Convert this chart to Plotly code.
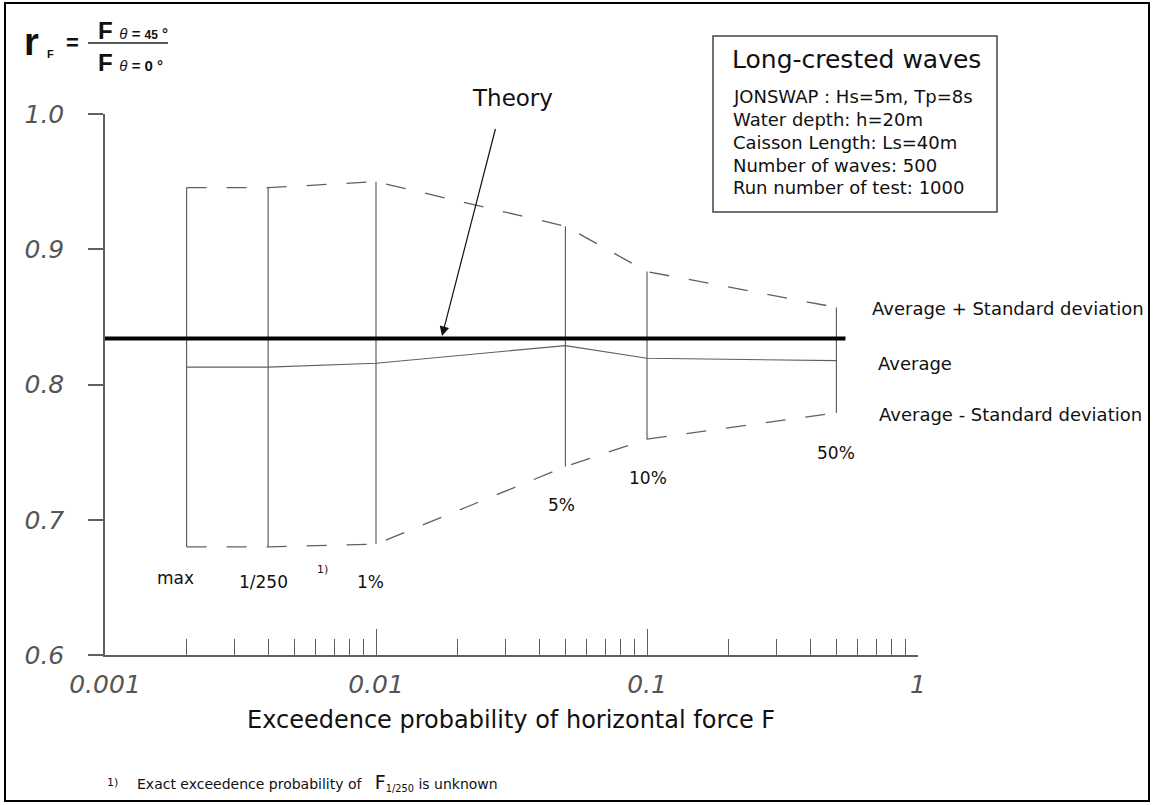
import plotly.graph_objects as go

# ---------------- data ----------------
categories = ["max", "1/250", "1%", "5%", "10%", "50%"]
exceed_prob = [0.002, 0.004, 0.01, 0.05, 0.1, 0.5]
avg_plus_sd = [0.9455, 0.9455, 0.950, 0.917, 0.8835, 0.857]
average = [0.8128, 0.8128, 0.8157, 0.8288, 0.8194, 0.8176]
avg_minus_sd = [0.680, 0.680, 0.682, 0.7393, 0.7596, 0.779]
theory_value = 0.834
theory_x = [0.001, 0.54]

x_tick_vals = [0.001, 0.01, 0.1, 1]
x_tick_text = ["0.001", "0.01", "0.1", "1"]
y_tick_vals = [0.6, 0.7, 0.8, 0.9, 1.0]
y_tick_text = ["0.6", "0.7", "0.8", "0.9", "1.0"]
minor_vals = [m * d for d in (0.001, 0.01, 0.1) for m in range(2, 10)]

# ---------------- layout geometry (pixels) ----------------
W_FIG, H_FIG = 1154, 805
L, R, T, B = 105, 918, 114, 655
PW, PH = R - L, B - T


def px(x):
    return (x - L) / PW


def py(y):
    return (B - y) / PH


FONT = "DejaVu Sans"
GRAY = "#555555"
LINE_GRAY = "#606060"

fig = go.Figure()

# vertical bars between lower and upper bounds
vx, vy = [], []
for xv, lo, hi in zip(exceed_prob, avg_minus_sd, avg_plus_sd):
    vx += [xv, xv, None]
    vy += [lo, hi, None]
fig.add_trace(go.Scatter(x=vx, y=vy, mode="lines",
                         line=dict(color=LINE_GRAY, width=1.2),
                         hoverinfo="skip", showlegend=False))

# upper / lower dashed envelopes
for series in (avg_plus_sd, avg_minus_sd):
    fig.add_trace(go.Scatter(x=exceed_prob, y=series, mode="lines",
                             line=dict(color=LINE_GRAY, width=1.3, dash="20px,20px"),
                             showlegend=False))

# average
fig.add_trace(go.Scatter(x=exceed_prob, y=average, mode="lines",
                         line=dict(color=LINE_GRAY, width=1.2),
                         showlegend=False))

# theory
fig.add_trace(go.Scatter(x=theory_x, y=[theory_value, theory_value], mode="lines",
                         line=dict(color="#000000", width=4),
                         showlegend=False))

annotations = []


def add_text(x, y, text, size=16, anchor="center", color="#111111", family=FONT, yanchor="middle"):
    annotations.append(dict(x=px(x), y=py(y), xref="paper", yref="paper", text=text,
                            showarrow=False, xanchor=anchor, yanchor=yanchor,
                            font=dict(family=family, size=size, color=color)))


# category labels
label_pos = {"max": (175, 578), "1/250": (263, 582), "1%": (370, 582),
             "5%": (561, 505), "10%": (648, 478), "50%": (836, 453)}
for c in categories:
    add_text(label_pos[c][0], label_pos[c][1], c, size=17)
add_text(322, 569, "1)", size=11)

# right side labels
add_text(870, 308, "Average + Standard deviation", size=18, anchor="left")
add_text(876, 363, "Average", size=18, anchor="left")
add_text(877, 415, "Average - Standard deviation", size=18, anchor="left")

# Theory label + arrow
add_text(512, 98, "Theory", size=23)
annotations.append(dict(x=px(442), y=py(336), xref="paper", yref="paper",
                        ax=498 - 442, ay=119 - 336, axref="pixel", ayref="pixel",
                        text=" ", showarrow=True, arrowhead=2, arrowsize=1.6,
                        arrowwidth=1.2, arrowcolor="#111111"))

# info box
add_text(856, 59, "Long-crested waves", size=25)
info_lines = ["JONSWAP : Hs=5m, Tp=8s", "Water depth: h=20m", "Caisson Length: Ls=40m",
              "Number of waves: 500", "Run number of test: 1000"]
for i, s in enumerate(info_lines):
    add_text(731, 96 + i * 23, s, size=18, anchor="left")

# x axis title
add_text(511, 720, "Exceedence probability of horizontal force F", size=24)

# formula  r_F = F(theta=45) / F(theta=0)
add_text(31, 42, "<b>r</b>", size=38, family="Liberation Sans")
add_text(50, 54, "<b>F</b>", size=11, family="Liberation Sans")
add_text(72, 43, "<b>=</b>", size=22, family="Liberation Sans")
add_text(96, 30, "<b>F</b> <span style='font-size:15px'><i>θ</i> <b>= </b><b><span style='font-size:12px'>45</span> °</b></span>",
         size=24, anchor="left", family="Liberation Sans")
add_text(96, 63, "<b>F</b> <span style='font-size:15px'><i>θ</i> <b>= 0 °</b></span>",
         size=24, anchor="left", family="Liberation Sans")

# footnote
add_text(105, 782, "1)", size=11, anchor="left")
add_text(135, 782, "Exact exceedence probability of   <span style='font-size:19px'>F</span><sub>1/250</sub> is unknown",
         size=14, anchor="left")

shapes = [
    # fraction bar
    dict(type="line", xref="paper", yref="paper", x0=px(88), x1=px(168), y0=py(43), y1=py(43),
         line=dict(color="#222222", width=1.5)),
    # info box
    dict(type="rect", xref="paper", yref="paper", x0=px(713), x1=px(997), y0=py(36), y1=py(212),
         line=dict(color="#444444", width=1.5)),
    # outer frame
    dict(type="rect", xref="paper", yref="paper", x0=px(5), x1=px(1149), y0=py(3), y1=py(801),
         line=dict(color="#000000", width=2)),
]

tick_font = dict(family="DejaVu Sans", size=25, color=GRAY, style="italic")

fig.update_layout(
    width=W_FIG, height=H_FIG,
    margin=dict(l=L, r=W_FIG - R, t=T, b=H_FIG - B),
    paper_bgcolor="white", plot_bgcolor="white",
    showlegend=False,
    annotations=annotations,
    shapes=shapes,
    xaxis=dict(type="log", range=[-3, 0], showgrid=False, zeroline=False,
               showline=True, linecolor=LINE_GRAY, linewidth=1.5,
               tickmode="array", tickvals=x_tick_vals, ticktext=x_tick_text,
               ticks="inside", ticklen=26, tickcolor=LINE_GRAY, tickwidth=1,
               minor=dict(ticks="inside", ticklen=16, tickcolor=LINE_GRAY, tickwidth=1,
                          tickmode="array", tickvals=minor_vals, showgrid=False),
               tickfont=tick_font, ticklabelstandoff=6),
    yaxis=dict(range=[0.6, 1.0], showgrid=False, zeroline=False,
               showline=True, linecolor=LINE_GRAY, linewidth=1.5,
               tickmode="array", tickvals=y_tick_vals, ticktext=y_tick_text,
               ticks="outside", ticklen=15, tickcolor=LINE_GRAY, tickwidth=1.5,
               tickfont=tick_font, ticklabelstandoff=19),
)

fig.write_html("out.html", config={"displayModeBar": False},
               post_script="document.body.style.margin='0';document.body.style.overflow='hidden';")
